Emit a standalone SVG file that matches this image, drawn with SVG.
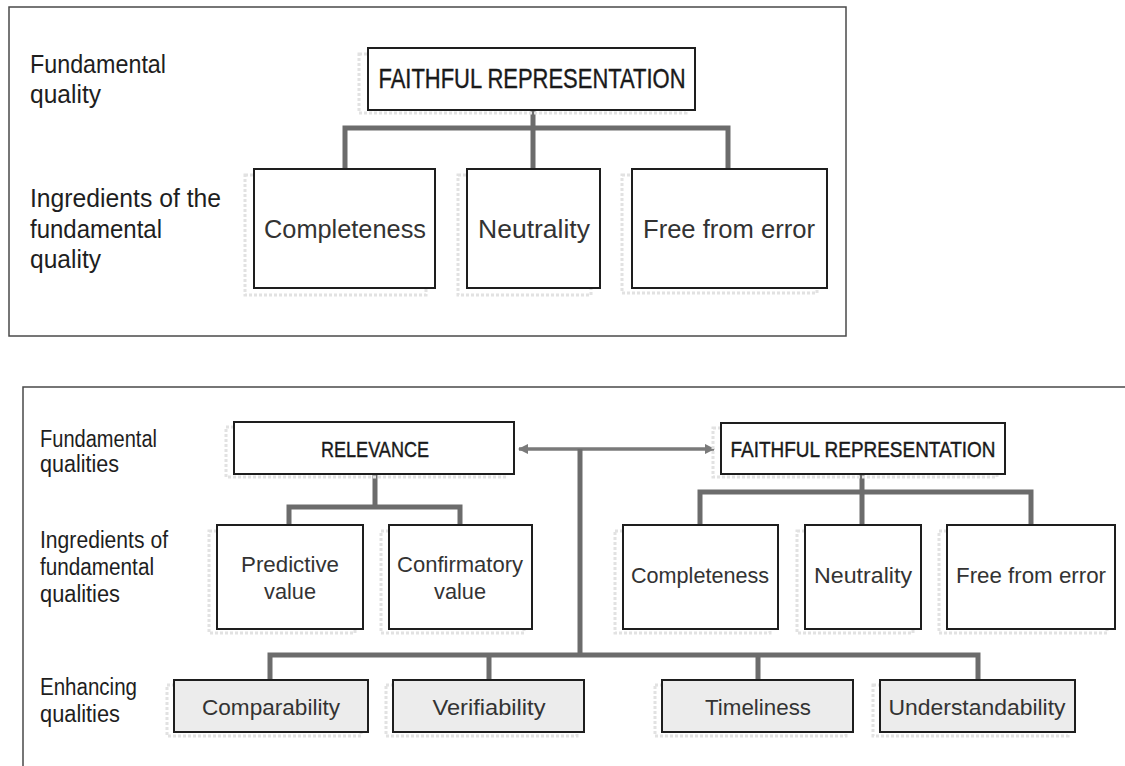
<svg xmlns="http://www.w3.org/2000/svg" width="1125" height="766" viewBox="0 0 1125 766">
  <style>
    .panel { fill: none; stroke: #4a4a4a; stroke-width: 1.5; }
    .box { fill: #ffffff; stroke: #1e1e1e; stroke-width: 2; }
    .box-enh { fill: #ececec; stroke: #1e1e1e; stroke-width: 2; }
    .shadow { fill: none; stroke: #e2e2e2; stroke-width: 3; stroke-dasharray: 3 2; }
    .conn { fill: none; stroke: #6c6c6c; stroke-width: 5; stroke-linejoin: miter; }
    .link { fill: none; stroke: #7a7a7a; stroke-width: 3.5; }
    .lbl { font-family: "Liberation Sans Narrow", "Liberation Sans", Arial, sans-serif; fill: #1e1e1e; }
    .head { font-family: "Liberation Sans Narrow", "Liberation Sans", Arial, sans-serif; fill: #1a1a1a; stroke: #1a1a1a; stroke-width: 0.4; text-anchor: middle; }
    .node { font-family: "Liberation Sans", Arial, sans-serif; fill: #333333; text-anchor: middle; }
  </style>
  <defs>
    <marker id="arrow" viewBox="0 0 10 10" refX="9" refY="5" markerWidth="3" markerHeight="3" orient="auto-start-reverse" markerUnits="strokeWidth">
      <path d="M0,0 L10,5 L0,10 z" fill="#7a7a7a"/>
    </marker>
  </defs>

  <!-- Upper panel: the single fundamental quality -->
  <rect class="panel" x="9" y="7" width="837" height="329"/>

  <g id="top-labels">
    <text class="lbl" x="30" y="73" font-size="26" textLength="136" lengthAdjust="spacingAndGlyphs">Fundamental</text>
    <text class="lbl" x="30" y="103" font-size="26" textLength="71" lengthAdjust="spacingAndGlyphs">quality</text>
    <text class="lbl" x="30" y="207" font-size="26" textLength="191" lengthAdjust="spacingAndGlyphs">Ingredients of the</text>
    <text class="lbl" x="30" y="238" font-size="26" textLength="132" lengthAdjust="spacingAndGlyphs">fundamental</text>
    <text class="lbl" x="30" y="268" font-size="26" textLength="71" lengthAdjust="spacingAndGlyphs">quality</text>
  </g>

  <g id="top-connectors">
    <path class="conn" d="M533,110 V169 M345,169 V128 H728 V169"/>
  </g>

  <g id="top-faithful">
    <rect class="shadow" x="359" y="54" width="327" height="59"/>
    <rect class="box" x="368" y="48" width="327" height="62"/>
    <text class="head" x="532" y="88" font-size="28" textLength="307" lengthAdjust="spacingAndGlyphs">FAITHFUL REPRESENTATION</text>
  </g>
  <g id="top-completeness">
    <rect class="shadow" x="245" y="175" width="181" height="120"/>
    <rect class="box" x="254" y="169" width="181" height="119"/>
    <text class="node" x="345" y="238" font-size="26" textLength="162" lengthAdjust="spacingAndGlyphs">Completeness</text>
  </g>
  <g id="top-neutrality">
    <rect class="shadow" x="458" y="175" width="133" height="120"/>
    <rect class="box" x="467" y="169" width="133" height="119"/>
    <text class="node" x="534" y="238" font-size="26" textLength="112" lengthAdjust="spacingAndGlyphs">Neutrality</text>
  </g>
  <g id="top-free-from-error">
    <rect class="shadow" x="622" y="175" width="195" height="118"/>
    <rect class="box" x="632" y="169" width="195" height="119"/>
    <text class="node" x="729" y="238" font-size="26" textLength="172" lengthAdjust="spacingAndGlyphs">Free from error</text>
  </g>

  <!-- Lower panel: fundamental and enhancing qualities -->
  <path class="panel" d="M23,766 V387 H1125"/>

  <g id="bottom-labels">
    <text class="lbl" x="40" y="447" font-size="23" textLength="117" lengthAdjust="spacingAndGlyphs">Fundamental</text>
    <text class="lbl" x="40" y="472" font-size="23" textLength="79" lengthAdjust="spacingAndGlyphs">qualities</text>
    <text class="lbl" x="40" y="548" font-size="23" textLength="128" lengthAdjust="spacingAndGlyphs">Ingredients of</text>
    <text class="lbl" x="40" y="575" font-size="23" textLength="114" lengthAdjust="spacingAndGlyphs">fundamental</text>
    <text class="lbl" x="40" y="602" font-size="23" textLength="80" lengthAdjust="spacingAndGlyphs">qualities</text>
    <text class="lbl" x="40" y="695" font-size="23" textLength="97" lengthAdjust="spacingAndGlyphs">Enhancing</text>
    <text class="lbl" x="40" y="722" font-size="23" textLength="80" lengthAdjust="spacingAndGlyphs">qualities</text>
  </g>

  <g id="bottom-connectors">
    <!-- two-way link between the fundamental qualities -->
    <path class="link" d="M580,449 H519" marker-end="url(#arrow)"/>
    <path class="link" d="M580,449 H714" marker-end="url(#arrow)"/>
    <!-- spine down to the enhancing qualities -->
    <path class="conn" d="M580,449 V655 M270,680 V655 H978 V680 M489,655 V680 M758,655 V680"/>
    <!-- relevance ingredients -->
    <path class="conn" d="M375,474 V507 M289,525 V507 H460 V525"/>
    <!-- faithful representation ingredients -->
    <path class="conn" d="M862,474 V525 M700,525 V492 H1031 V525"/>
  </g>

  <g id="relevance">
    <rect class="shadow" x="226" y="427" width="280" height="50"/>
    <rect class="box" x="234" y="422" width="280" height="52"/>
    <text class="head" x="375" y="457" font-size="22" textLength="108" lengthAdjust="spacingAndGlyphs">RELEVANCE</text>
  </g>
  <g id="faithful-representation">
    <rect class="shadow" x="713" y="428" width="284" height="49"/>
    <rect class="box" x="721" y="423" width="284" height="51"/>
    <text class="head" x="863" y="457" font-size="22" textLength="265" lengthAdjust="spacingAndGlyphs">FAITHFUL REPRESENTATION</text>
  </g>
  <g id="predictive-value">
    <rect class="shadow" x="209" y="531" width="146" height="102"/>
    <rect class="box" x="217" y="525" width="146" height="104"/>
    <text class="node" x="290" y="572" font-size="22" textLength="98" lengthAdjust="spacingAndGlyphs">Predictive</text>
    <text class="node" x="290" y="599" font-size="22" textLength="52" lengthAdjust="spacingAndGlyphs">value</text>
  </g>
  <g id="confirmatory-value">
    <rect class="shadow" x="381" y="531" width="143" height="102"/>
    <rect class="box" x="389" y="525" width="143" height="104"/>
    <text class="node" x="460" y="572" font-size="22" textLength="126" lengthAdjust="spacingAndGlyphs">Confirmatory</text>
    <text class="node" x="460" y="599" font-size="22" textLength="52" lengthAdjust="spacingAndGlyphs">value</text>
  </g>
  <g id="completeness">
    <rect class="shadow" x="615" y="531" width="155" height="102"/>
    <rect class="box" x="623" y="525" width="155" height="104"/>
    <text class="node" x="700" y="583" font-size="22" textLength="138" lengthAdjust="spacingAndGlyphs">Completeness</text>
  </g>
  <g id="neutrality">
    <rect class="shadow" x="797" y="531" width="116" height="102"/>
    <rect class="box" x="805" y="525" width="116" height="104"/>
    <text class="node" x="863" y="583" font-size="22" textLength="98" lengthAdjust="spacingAndGlyphs">Neutrality</text>
  </g>
  <g id="free-from-error">
    <rect class="shadow" x="939" y="531" width="168" height="102"/>
    <rect class="box" x="947" y="525" width="168" height="104"/>
    <text class="node" x="1031" y="583" font-size="22" textLength="150" lengthAdjust="spacingAndGlyphs">Free from error</text>
  </g>
  <g id="comparability">
    <rect class="shadow" x="167" y="685" width="194" height="51"/>
    <rect class="box-enh" x="174" y="680" width="194" height="52"/>
    <text class="node" x="271" y="715" font-size="22" textLength="138" lengthAdjust="spacingAndGlyphs">Comparability</text>
  </g>
  <g id="verifiability">
    <rect class="shadow" x="386" y="685" width="191" height="51"/>
    <rect class="box-enh" x="393" y="680" width="191" height="52"/>
    <text class="node" x="489" y="715" font-size="22" textLength="113" lengthAdjust="spacingAndGlyphs">Verifiability</text>
  </g>
  <g id="timeliness">
    <rect class="shadow" x="655" y="685" width="191" height="51"/>
    <rect class="box-enh" x="662" y="680" width="191" height="52"/>
    <text class="node" x="758" y="715" font-size="22" textLength="106" lengthAdjust="spacingAndGlyphs">Timeliness</text>
  </g>
  <g id="understandability">
    <rect class="shadow" x="873" y="685" width="195" height="51"/>
    <rect class="box-enh" x="880" y="680" width="195" height="52"/>
    <text class="node" x="977" y="715" font-size="22" textLength="177" lengthAdjust="spacingAndGlyphs">Understandability</text>
  </g>
</svg>
